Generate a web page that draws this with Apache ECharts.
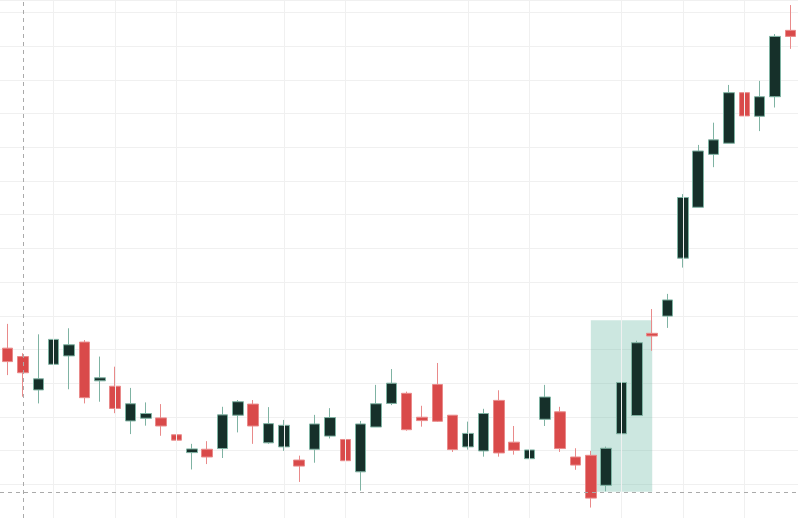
<!DOCTYPE html>
<html><head><meta charset="utf-8">
<script src="https://cdn.jsdelivr.net/npm/echarts@6/dist/echarts.min.js"></script>
<style>html,body{margin:0;padding:0;background:#fff}#c{width:800px;height:518px}</style>
</head><body><div id="c"></div>
<script>
// [open, close, low, high]
const candles = [
[50.4,46.4,42.4,57.6],[47.9,43.1,36.0,48.9],[38.0,41.3,34.0,54.5],[45.6,53.0,44.2,56.6],
[48.1,51.4,38.2,56.3],[52.2,35.7,34.0,52.8],[40.7,41.6,34.5,47.9],[39.1,32.5,31.1,44.9],
[28.8,33.9,24.9,38.6],[29.6,31.0,27.4,34.3],[29.7,27.3,24.4,33.8],[24.7,23.1,19.6,25.8],
[19.4,20.5,14.4,22.0],[20.4,18.1,16.0,22.8],[20.6,30.6,17.8,33.0],[30.5,34.5,25.4,35.0],
[33.8,27.3,22.0,35.0],[22.3,28.0,22.0,32.9],[21.1,27.5,19.9,29.1],[17.2,15.4,10.7,18.5],
[20.4,27.9,16.4,30.6],[24.3,29.8,23.6,32.6],[23.3,17.0,16.4,25.8],[13.7,27.9,8.1,28.8],
[27.0,33.9,27.0,39.5],[34.0,40.0,33.5,44.2],[37.0,26.2,25.9,37.5],[29.9,28.9,27.1,33.3],
[39.6,28.7,28.5,46.0],[30.5,20.3,19.6,30.5],[21.1,25.1,20.3,28.6],[19.9,31.0,18.2,32.4],
[34.9,19.3,18.2,37.9],[22.5,20.1,18.8,27.3],[17.6,20.2,16.1,21.6],[29.3,35.9,27.3,39.5],
[31.5,20.6,19.6,33.0],[18.1,15.7,14.3,20.7],[18.6,5.9,3.1,19.9],[9.7,20.7,7.9,21.2],
[25.0,40.2,25.0,44.0],[30.4,52.0,30.4,52.6],[54.8,54.0,49.6,62.0],[59.9,64.7,56.4,66.5],
[77.1,95.1,74.3,96.1],[92.2,108.9,92.2,110.7],[107.9,112.2,104.1,117.3],[111.2,126.2,111.2,128.5],
[126.2,119.3,110.7,126.5],[119.2,125.0,114.8,129.7],[125.0,142.9,121.8,143.6],[144.7,142.9,139.2,152.2]
];
const categories = candles.map((_, i) => String(i));
const gridCols = [3,7,11,18,22,30,34,40,44,48];
const crossX = 1, crossY = 7.7;
const zoneFrom = 38, zoneTo = 42, zoneLow = 7.8, zoneHigh = 58.7;

const chart = echarts.init(document.getElementById('c'));
chart.setOption({
  animation:false,
  grid:{left:-5,right:2,top:0,bottom:0},
  xAxis:{type:'category',data:categories,boundaryGap:true,show:false},
  yAxis:{type:'value',min:0,max:153.7,interval:10,axisLabel:{show:false},axisLine:{show:false},axisTick:{show:false},
    splitLine:{lineStyle:{color:'#f0f0f0'}}},
  series:[{
    type:'candlestick',data:candles,barWidth:'72%',
    itemStyle:{color:'#16302a',color0:'#d94a4a',borderColor:'#7fb3a3',borderColor0:'#e98a8a',borderWidth:1},
    markLine:{silent:true,symbol:'none',label:{show:false},
      data:[
        ...gridCols.map(c=>({xAxis:String(c),lineStyle:{color:'#f0f0f0',type:'solid',width:1}})),
        {xAxis:String(crossX),lineStyle:{color:'#aaa',type:[4,4],width:1}},
        {yAxis:crossY,lineStyle:{color:'#aaa',type:[4,4],width:1}}
      ]},
    markArea:{silent:true,itemStyle:{color:'rgba(110,185,165,0.35)'},
      data:[[{xAxis:String(zoneFrom),yAxis:zoneHigh},{xAxis:String(zoneTo),yAxis:zoneLow}]]}
  }]
});
</script></body></html>
